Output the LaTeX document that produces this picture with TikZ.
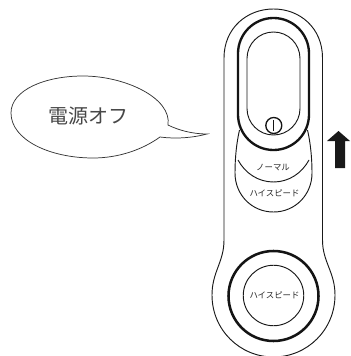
\documentclass[tikz,border=0pt]{standalone}
\usepackage{fontspec}
\newfontfamily\cjk{Noto Sans CJK JP}
\tikzset{
  x=0.75pt,y=-0.75pt,
  thin line/.style={draw=black!90,line width=0.7pt},
  thick line/.style={draw=black!92,line width=1.75pt},
  small label/.style={font=\cjk\fontsize{6.3pt}{7pt}\selectfont,text=black!85,inner sep=0pt},
  big label/.style={font=\cjk\fontsize{15pt}{16pt}\selectfont,text=black!72,inner sep=0pt}
}
\begin{document}
\begin{tikzpicture}
\useasboundingbox (0,0) rectangle (350,356);
\fill[white] (0,0) rectangle (350,356);
% body
\draw[thin line] (224,58) .. controls (224,28) and (247,9) .. (273.5,9) .. controls (300,9) and (322.5,28) .. (322.5,58)
  -- (322.5,240) .. controls (322.5,262) and (335,272) .. (335,295)
  .. controls (335,330) and (307,357) .. (273.5,357)
  .. controls (240,357) and (212,330) .. (212,295)
  .. controls (212,272) and (224,262) .. (224,240) -- cycle;
% slider arcs
\draw[thin line] (239.5,130) .. controls (236.5,143) and (235,158) .. (235,173)
  .. controls (235,195) and (252,212) .. (273.5,212)
  .. controls (295,212) and (312,195) .. (312,173)
  .. controls (312,158) and (310.5,143) .. (307.5,130);
\draw[thin line] (238,160) .. controls (245,173) and (258,182) .. (273.5,182)
  .. controls (289,182) and (302,173) .. (309,160);
% thick pill
\draw[thick line,fill=white,rounded corners=35.5*0.75pt] (238,18) rectangle (309,150);
\draw[thin line,rounded corners=26.5*0.75pt] (247,32) rectangle (300,135);
% power symbol
\node[draw=black!92,line width=1pt,circle,minimum size=16*0.75pt,inner sep=0pt] (power) at (273.8,125.5) {};
\coordinate (powerTop) at (273.8,120.5);
\coordinate (powerBot) at (273.8,130.5);
\draw[draw=black!92,line width=1pt] (powerTop) -- (powerBot);
% lower button
\node[draw=black!92,line width=1.9pt,circle,minimum size=90*0.75pt,inner sep=0pt] (ring) at (273.5,296) {};
\node[thin line,draw,circle,minimum size=60.5*0.75pt,inner sep=0pt] (button) at (273.5,295.5) {};
% labels
\node[small label] (speedb) at (274.5,295) {ハイスピード};
\node[small label] (speeda) at (274.5,193) {ハイスピード};
\node[small label] (normal) at (273,168) {ノーマル};
% arrow
\fill[black!90] (338.5,131) -- (350,141) -- (345,141) -- (345,168) -- (335,168) -- (335,141) -- (327,141) -- cycle;
% bubble
\draw[draw=black!80,line width=0.55pt,fill=white] (168,125)
  .. controls (178,130) and (192,134) .. (207,134)
  .. controls (192,138) and (175,139) .. (160,137)
  .. controls (142,150) and (118,158) .. (93,158)
  .. controls (50,158) and (11,140) .. (11,113)
  .. controls (11,90) and (45,76) .. (83,76)
  .. controls (125,76) and (172,98) .. (168,125) -- cycle;
\node[big label] (bubbletext) at (88,116) {電源オフ};
\end{tikzpicture}
\end{document}
